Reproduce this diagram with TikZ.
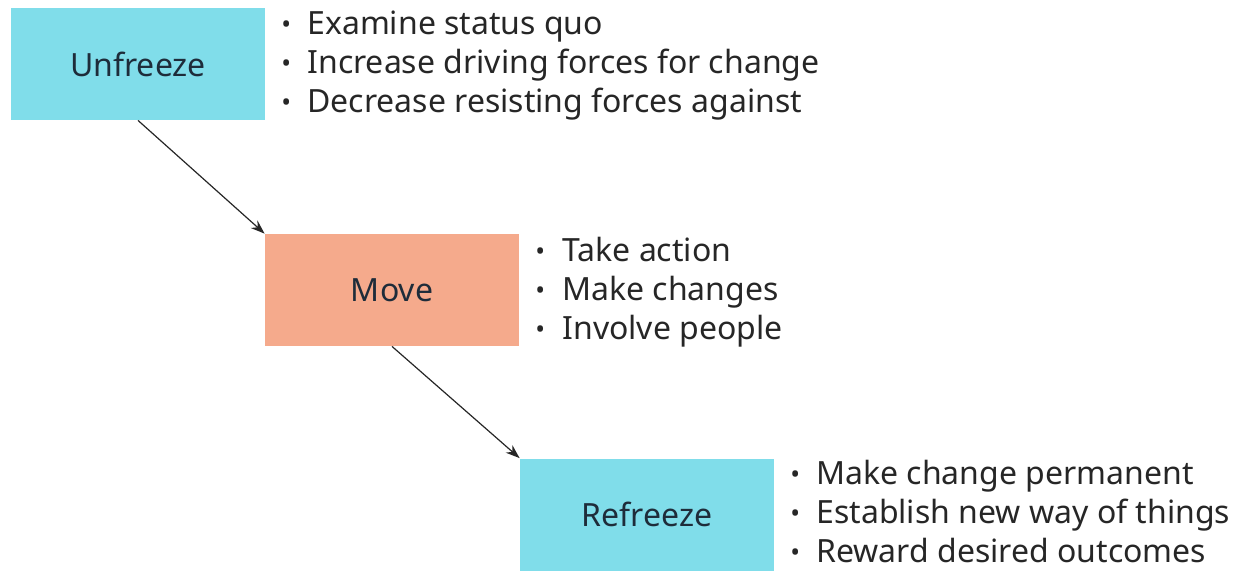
\documentclass[tikz,border=0pt]{standalone}
\usepackage{fontspec}
\setmainfont{Noto Sans}
\usetikzlibrary{arrows.meta}
\definecolor{icecyan}{HTML}{80DDEA}
\definecolor{salmon}{HTML}{F5AA8C}
\definecolor{labelink}{HTML}{1E2C3A}
\definecolor{bodyink}{HTML}{262626}
\begin{document}
\begin{tikzpicture}[x=0.5pt,y=-0.5pt,
  stagebox/.style={draw=none,minimum width=127pt,minimum height=56pt,inner sep=0pt,
    font=\fontsize{16}{18}\selectfont,text=labelink},
  item/.style={anchor=base west,inner sep=0pt,font=\fontsize{16}{18}\selectfont,text=bodyink},
  dot/.style={anchor=base west,inner sep=0pt,font=\fontsize{13}{15}\selectfont,text=bodyink},
  link/.style={draw=black!85,line width=0.6pt,-{Stealth[length=7pt,width=5pt]}}]
\useasboundingbox (0,0) rectangle (1244,570);
\node[stagebox,fill=icecyan] (unf) at (138,64) {Unfreeze};
\node[stagebox,fill=salmon] (mov) at (392,290) {Move};
\node[stagebox,fill=icecyan] (ref) at (647,514.5) {Refreeze};
\draw[link] (unf.south) -- (mov.north west);
\draw[link] (mov.south) -- (ref.north west);
% Unfreeze list
\node[dot] (ud1) at (281,33) {•};
\node[dot] (ud2) at (281,72) {•};
\node[dot] (ud3) at (281,111) {•};
\node[item] (u1) at (307,34) {Examine status quo};
\node[item] (u2) at (307,73) {Increase driving forces for change};
\node[item] (u3) at (307,112) {Decrease resisting forces against};
% Move list
\node[dot] (md1) at (535,260) {•};
\node[dot] (md2) at (535,299) {•};
\node[dot] (md3) at (535,338) {•};
\node[item] (m1) at (562,261) {Take action};
\node[item] (m2) at (562,300) {Make changes};
\node[item] (m3) at (562,339) {Involve people};
% Refreeze list
\node[dot] (rd1) at (790,483) {•};
\node[dot] (rd2) at (790,522) {•};
\node[dot] (rd3) at (790,561) {•};
\node[item] (r1) at (816,484) {Make change permanent};
\node[item] (r2) at (816,523) {Establish new way of things};
\node[item] (r3) at (816,562) {Reward desired outcomes};
\end{tikzpicture}
\end{document}
